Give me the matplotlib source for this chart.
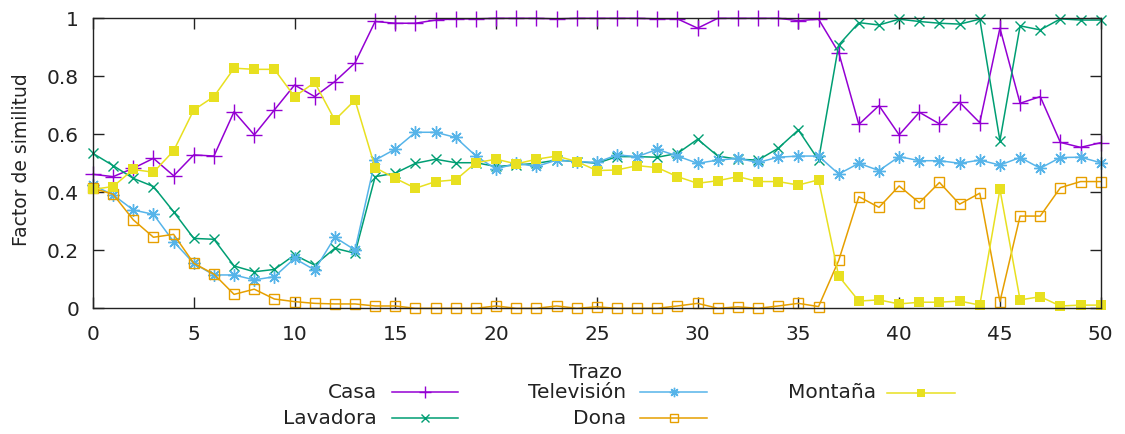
import matplotlib
matplotlib.use('Agg')
import matplotlib.pyplot as plt
from matplotlib.lines import Line2D
import numpy as np

# datos
trazo = list(range(51))
casa = [0.462, 0.454, 0.483, 0.517, 0.457, 0.529, 0.525, 0.678, 0.598, 0.684,
        0.770, 0.730, 0.782, 0.846, 0.989, 0.983, 0.983, 0.994, 0.998, 0.998,
        1.0, 1.0, 1.0, 0.998, 1.0, 1.0, 1.0, 1.0, 0.998, 0.998,
        0.966, 1.0, 1.0, 1.0, 1.0, 0.992, 0.997, 0.882, 0.634, 0.699,
        0.598, 0.676, 0.636, 0.710, 0.640, 0.966, 0.707, 0.730, 0.572, 0.555,
        0.571]
lavadora = [0.534, 0.492, 0.448, 0.420, 0.333, 0.241, 0.238, 0.146, 0.126, 0.134,
            0.184, 0.149, 0.207, 0.190, 0.454, 0.466, 0.500, 0.514, 0.502, 0.502,
            0.489, 0.494, 0.500, 0.511, 0.506, 0.500, 0.523, 0.523, 0.521, 0.534,
            0.583, 0.525, 0.514, 0.511, 0.552, 0.615, 0.511, 0.908, 0.985, 0.977,
            0.997, 0.989, 0.983, 0.980, 0.997, 0.578, 0.974, 0.960, 0.998, 0.994,
            0.994]
television = [0.425, 0.391, 0.339, 0.324, 0.230, 0.155, 0.115, 0.115, 0.098, 0.109,
              0.172, 0.132, 0.245, 0.201, 0.511, 0.549, 0.607, 0.607, 0.589, 0.525,
              0.480, 0.500, 0.489, 0.511, 0.506, 0.503, 0.529, 0.523, 0.548, 0.525,
              0.500, 0.511, 0.517, 0.503, 0.521, 0.525, 0.525, 0.463, 0.500, 0.475,
              0.523, 0.509, 0.509, 0.500, 0.511, 0.494, 0.520, 0.483, 0.520, 0.521,
              0.502]
dona = [0.414, 0.393, 0.305, 0.245, 0.255, 0.155, 0.118, 0.048, 0.066, 0.032,
        0.023, 0.017, 0.015, 0.015, 0.008, 0.008, 0.0, 0.0, 0.0, 0.0,
        0.008, 0.0, 0.0, 0.008, 0.0, 0.005, 0.0, 0.0, 0.0, 0.008,
        0.017, 0.0, 0.005, 0.0, 0.008, 0.017, 0.006, 0.165, 0.385, 0.348,
        0.422, 0.364, 0.434, 0.359, 0.397, 0.023, 0.318, 0.318, 0.416, 0.437,
        0.437]
montana = [0.410, 0.420, 0.479, 0.469, 0.543, 0.684, 0.730, 0.828, 0.824, 0.824,
           0.730, 0.779, 0.649, 0.718, 0.485, 0.448, 0.414, 0.437, 0.443, 0.502,
           0.514, 0.498, 0.514, 0.525, 0.506, 0.475, 0.477, 0.492, 0.485, 0.454,
           0.431, 0.440, 0.454, 0.437, 0.437, 0.425, 0.443, 0.111, 0.025, 0.029,
           0.015, 0.021, 0.021, 0.025, 0.011, 0.410, 0.029, 0.040, 0.008, 0.011,
           0.011]

series = [
    ('Casa', casa, '#9400d3', dict(marker='+', markersize=11, mew=1.0)),
    ('Lavadora', lavadora, '#009e73', dict(marker='x', markersize=7, mew=1.0)),
    ('Televisión', television, '#56b4e9', dict(marker=(8, 2, 0), markersize=9, mew=1.0)),
    ('Dona', dona, '#e69f00', dict(marker='s', markersize=7, mfc='none', mew=1.0)),
    ('Montaña', montana, '#e8e020', dict(marker='s', markersize=7, mew=0)),
]

W, H = 1125, 434
fig = plt.figure(figsize=(W / 100, H / 100), dpi=100)
ax = fig.add_axes([93 / W, 1 - 308.3 / H, (1100.7 - 93) / W, (308.3 - 18.3) / H])

for nombre, vals, col, mk in series:
    ax.plot(trazo, vals, color=col, lw=1.1, clip_on=False, **mk)

ax.set_xlim(0, 50)
ax.set_ylim(0, 1)
ax.set_xticks(range(0, 51, 5))
ax.set_yticks([0, 0.2, 0.4, 0.6, 0.8, 1.0])
ax.set_yticklabels(['0', '0.2', '0.4', '0.6', '0.8', '1'])
ax.tick_params(direction='in', length=8, width=1, top=True, right=True,
               labelsize=14.5, colors='#222222', pad=10)
ax.tick_params(axis='x', pad=12)
for s in ax.spines.values():
    s.set_linewidth(1.0)
    s.set_color('#222222')

fig.text(22 / W, 1 - 160 / H, 'Factor de similitud', rotation=90, ha='center',
         va='center', fontsize=13.5, color='#222222')
fig.text(596 / W, 1 - 373 / H, 'Trazo', ha='center', va='center',
         fontsize=14.5, color='#222222')

# leyenda estilo gnuplot (texto a la derecha alineado, muestra a la derecha)
key_pos = [(377, 392, 392, 458), (377, 418, 392, 458),
           (626, 392, 640, 707), (626, 418, 640, 707),
           (876, 393, 887, 955)]
for (nombre, vals, col, mk), (tx, ty, lx0, lx1) in zip(series, key_pos):
    yy = 1 - ty / H
    fig.text(tx / W, yy, nombre, ha='right', va='center', fontsize=14.5,
             color='#222222')
    fig.add_artist(Line2D([lx0 / W, lx1 / W], [yy, yy], color=col, lw=1.1,
                          transform=fig.transFigure))
    mk_key = dict(mk)
    mk_key['markersize'] = mk['markersize'] * 0.75
    fig.add_artist(Line2D([(lx0 + lx1) / 2 / W], [yy], color=col, lw=0,
                          transform=fig.transFigure, **mk_key))

fig.savefig('out.png', dpi=100)
